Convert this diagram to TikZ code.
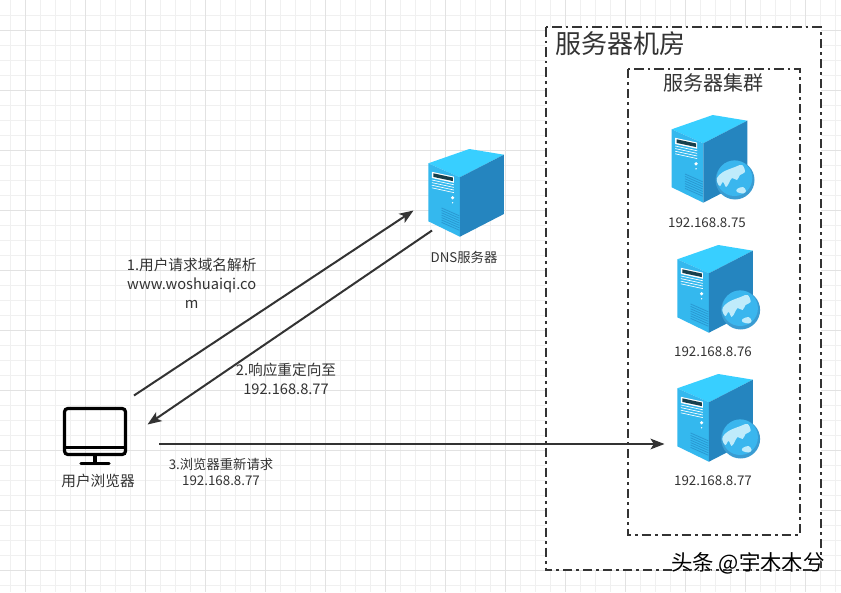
\documentclass[tikz,border=0pt]{standalone}
\usepackage{fontspec}
\setmainfont{Noto Sans CJK SC}
\usetikzlibrary{arrows.meta}
\definecolor{inktext}{HTML}{333333}
\definecolor{gridminor}{HTML}{F0F0F0}
\definecolor{gridmajor}{HTML}{E2E2E2}
\definecolor{srvtop}{HTML}{38CFFF}
\definecolor{srvleft}{HTML}{34B8EE}
\definecolor{srvright}{HTML}{2585BF}
\definecolor{srvvent}{HTML}{2A98D2}
\definecolor{srvscreen}{HTML}{173F4C}
\definecolor{globering}{HTML}{3A9CD2}
\definecolor{globemain}{HTML}{3AB6EE}
\definecolor{globeland}{HTML}{BFEBFB}
\tikzset{
x=0.75pt, y=-0.75pt, % one unit is one pixel of the reference
every node/.style={text=inktext, align=center, inner sep=0pt},
room/.style={draw=inktext, fill=white, line width=1.5pt,
dash pattern=on 7pt off 3pt on 2pt off 3pt},
flow/.style={draw=inktext, line width=1.5pt, -{Stealth[length=10.5pt,width=8pt,inset=2.5pt]}},
iplabel/.style={font=\fontsize{10}{12}\selectfont},
msglabel/.style={font=\fontsize{11}{14.3}\selectfont},
server/.pic={
\fill[srvtop] (0,0) -- (41,-14.3) -- (75.6,-8.6) -- (31.6,14) -- cycle;
\fill[srvleft] (0,0) -- (31.6,14) -- (31.6,73.4) -- (0,58) -- cycle;
\fill[srvright] (31.6,14) -- (75.6,-8.6) -- (75.6,50.7) -- (31.6,73.4) -- cycle;
\fill[white] (3.5,8.5) -- (25.5,13.3) -- (25.5,19.5) -- (3.5,14.7) -- cycle;
\fill[srvscreen] (5,10) -- (24.5,14.2) -- (24.5,17.8) -- (5,13.6) -- cycle;
\foreach \k in {0,...,3}
\draw[white, line width=0.5pt] (3.5,16.7+2.6*\k) -- (25.5,21.5+2.6*\k);
\fill[white] (24.3,34.5) circle (1.8);
\fill[white] (24.3,39.5) circle (0.8);
\foreach \k in {0,...,6}
\draw[srvvent, line width=0.6pt] (13.3,44.7+2.4*\k) -- (31,52.5+2.4*\k);
},
globe/.pic={
\fill[globering] (0,0) circle (19.5);
\fill[globemain] (-0.5,-1.8) circle (17.8);
\fill[globeland] plot[smooth cycle, tension=0.6] coordinates {(-18,-2) (-12,-8) (0,-13) (7,-15)
(10,-8) (5,-5) (2,0) (-3,-2) (-6,3) (-9,7) (-12,2) (-15,6) (-17.5,3)};
\fill[globeland] plot[smooth cycle, tension=0.6] coordinates {(2,9) (8,7) (11,11) (8,13.5) (2,12)};
},
monitor/.pic={
\draw[black, line width=2.4pt, rounded corners=2.5pt] (64.5,408.5) rectangle (125.5,454.5);
\draw[black, line width=2.4pt] (64.5,447.5) -- (125.5,447.5);
\draw[black, line width=2.4pt] (95,455) -- (95,463);
\draw[black, line width=2.4pt, line cap=round] (81,463.5) -- (109,463.5);
}
}
\begin{document}
\begin{tikzpicture}
\useasboundingbox (0,0) rectangle (841,592);
\fill[white] (0,0) rectangle (841,592);

% background grid
\foreach \gx in {10.5,25.5,...,840}
\draw[gridminor, line width=0.75pt] (\gx,0) -- (\gx,592);
\foreach \gy in {15.5,30.5,...,590}
\draw[gridminor, line width=0.75pt] (0,\gy) -- (841,\gy);
\foreach \gx in {25.5,85.5,...,840}
\draw[gridmajor, line width=0.75pt] (\gx,0) -- (\gx,592);
\foreach \gy in {30.5,90.5,...,590}
\draw[gridmajor, line width=0.75pt] (0,\gy) -- (841,\gy);

% rooms
\draw[room] (545.5,27.5) rectangle (821,570);
\draw[room] (627.5,69) rectangle (799.5,535);
\node[font=\fontsize{19.5}{23}\selectfont] (roomtitle) at (620,44) {服务器机房};
\node[font=\fontsize{15}{18}\selectfont] (clustertitle) at (713.7,82.5) {服务器集群};

% browser
\pic {monitor};
\node[iplabel, font=\fontsize{11}{13}\selectfont] (browser) at (98,481) {用户浏览器};

% dns
\pic at (428.3,163.3) {server};
\node[iplabel] (dns) at (464,257.5) {DNS服务器};

% servers
\pic at (671.7,129.3) {server};
\pic at (735,180) {globe};
\node[iplabel] (ip75) at (707,223) {192.168.8.75};

\pic at (677.3,259.3) {server};
\pic at (740.6,310) {globe};
\node[iplabel] (ip76) at (713,352) {192.168.8.76};

\pic at (677.3,388.3) {server};
\pic at (740.6,439) {globe};
\node[iplabel] (ip77) at (713,481) {192.168.8.77};

% connector ends
\coordinate (reqstart) at (134,395.5);
\coordinate (reqend) at (413.5,210.5);
\coordinate (respstart) at (432,230.5);
\coordinate (respend) at (147.5,424.5);
\coordinate (againstart) at (159,444);
\coordinate (againend) at (664.5,444);

\draw[flow] (reqstart) -- (reqend);
\draw[flow] (respstart) -- (respend);
\draw[flow] (againstart) -- (againend);

% messages
\node[msglabel] (msgreq) at (191.7,283) {1.用户请求域名解析\\www.woshuaiqi.co\\m};
\node[msglabel] (msgresp) at (286,379) {2.响应重定向至\\192.168.8.77};
\node[iplabel] (msgagain) at (221,472) {3.浏览器重新请求\\192.168.8.77};

% watermark
\node[font=\fontsize{16}{19}\selectfont, text=white] (markshadow) at (748.8,564) {头条 @宇木木兮};
\node[font=\fontsize{16}{19}\selectfont, text=black] (mark) at (748,563) {头条 @宇木木兮};
\end{tikzpicture}
\end{document}
